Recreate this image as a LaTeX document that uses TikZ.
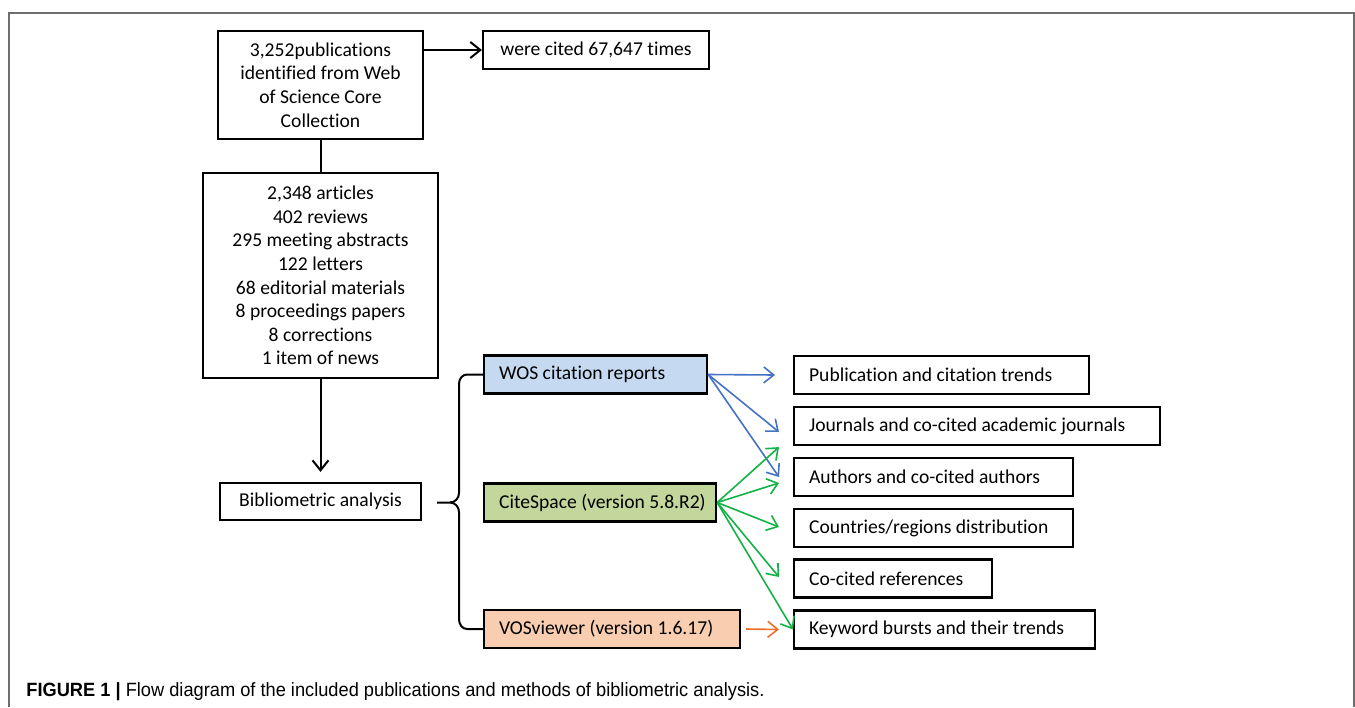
\documentclass[tikz,border=0pt]{standalone}
\usepackage{fontspec}
\setmainfont{Carlito}[Ligatures=NoCommon]
\newfontfamily\capfont{Liberation Sans}
\usetikzlibrary{arrows.meta}
\definecolor{wosblue}{RGB}{197,217,241}
\definecolor{citegreen}{RGB}{195,214,155}
\definecolor{vospeach}{RGB}{249,205,175}
\definecolor{arrblue}{RGB}{68,114,196}
\definecolor{arrgreen}{RGB}{20,178,70}
\definecolor{arrorange}{RGB}{237,110,40}
\definecolor{framegray}{RGB}{110,110,110}
\begin{document}
\begin{tikzpicture}[x=0.5pt,y=-0.5pt,
				font=\fontsize{9.8}{11.8}\selectfont,
				box/.style={draw,line width=1.1pt,inner sep=0pt,align=center},
				item/.style={draw,line width=1.1pt,anchor=west,align=flush left,inner xsep=7.5pt,inner ysep=0pt,minimum height=19pt},
				tip/.style={-{Straight Barb[length=5pt,width=8pt]}},
				link/.style={tip,line width=0.8pt}]
\useasboundingbox (0,0) rectangle (1355,707);
\draw[framegray,line width=1pt] (9,707) -- (9,13) -- (1354,13) -- (1354,707);
\node[box,minimum width=102.5pt,minimum height=54pt] (pubs) at (320.5,85) {3,252publications\\identified from Web\\of Science Core\\Collection};
\node[box,minimum width=113pt,minimum height=19pt] (cited) at (596,50) {were cited 67,647 times};
\node[box,minimum width=117.5pt,minimum height=102.5pt] (types) at (320.5,275.5) {2,348 articles\\402 reviews\\295 meeting abstracts\\122 letters\\68 editorial materials\\8 proceedings papers\\8 corrections\\1 item of news};
\node[box,minimum width=100.5pt,minimum height=18.5pt] (biblio) at (320.5,501.5) {Bibliometric analysis};
\node[item,fill=wosblue,text width=96.5pt] (wos) at (483,374.5) {WOS citation reports};
\node[item,fill=citegreen,text width=101pt] (cite) at (483,502.5) {\mbox{CiteSpace (version 5.8.R2)}};
\node[item,fill=vospeach,text width=113pt] (vos) at (483,629) {VOSviewer (version 1.6.17)};
\node[item,text width=132.5pt] (pub) at (793,375) {Publication and citation trends};
\node[item,text width=168pt] (jour) at (793,426) {Journals and co-cited academic journals};
\node[item,text width=124.5pt] (auth) at (793,477) {Authors and co-cited authors};
\node[item,text width=124.5pt] (coun) at (793,528) {Countries/regions distribution};
\node[item,text width=84pt] (ref) at (793,578.5) {Co-cited references};
\node[item,text width=135.5pt] (key) at (793,629.5) {Keyword bursts and their trends};
\draw[line width=1pt,tip] (pubs.east |- cited) -- (cited.west);
\draw[line width=1pt] (pubs) -- (types);
\draw[line width=1pt,tip,shorten >=5pt] (types) -- (biblio);
\draw[line width=1pt] (wos.west) -- (467,374.5) to[out=180,in=90] (459,384) -- (459,493) to[out=-90,in=0] (450,502.5) -- (437,502.5);
\draw[line width=1pt] (vos.west) -- (467,629) to[out=180,in=-90] (459,619) -- (459,512) to[out=90,in=0] (450,502.5);
\draw[link,arrblue] (wos.east) -- ([xshift=-9pt]pub.west);
\draw[link,arrblue] (wos.east) -- ([xshift=-7pt,yshift=-3pt]jour.west);
\draw[link,arrblue] (wos.east) -- ([xshift=-7pt]auth.west);
\foreach \t/\dy in {jour.south west/-0.5,auth.west/-3,coun.west/0.5,ref.west/0.75}
	\draw[link,arrgreen] (cite.east) -- ([xshift=-7pt,yshift=\dy pt]\t);
\draw[link,arrgreen] (cite.east) -- (key.west);
\draw[link,arrorange] ([xshift=2.5pt]vos.east) -- ([xshift=-7pt]key.west);
\node[anchor=base west,inner sep=0pt,font=\capfont\fontsize{9.6}{11}\selectfont] (caption) at (26,696) {\scalebox{0.95}[1]{\textbf{FIGURE 1 |} Flow diagram of the included publications and methods of bibliometric analysis.}};
\end{tikzpicture}
\end{document}
